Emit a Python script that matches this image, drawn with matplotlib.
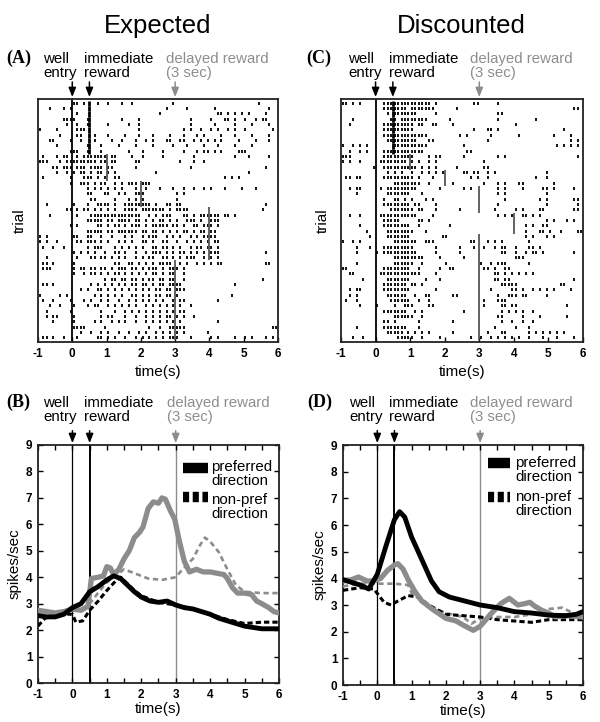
import matplotlib
matplotlib.use('Agg')
import matplotlib.pyplot as plt
from matplotlib.lines import Line2D

plt.rcParams['font.family'] = ['Liberation Sans', 'DejaVu Sans']
plt.rcParams['lines.scale_dashes'] = False

W, H = 600, 722
fig = plt.figure(figsize=(W / 100, H / 100), dpi=100)

# ---------------- data ----------------
# raster spikes: bin indices (0.1 s bins starting at -1 s), one list per trial (top row first)
raster_A = [
    [10, 11, 13, 17, 20, 24, 27, 39, 64],
    [3, 7, 9, 37, 43, 51, 67],
    [11, 35, 52, 53, 55, 57, 59, 61, 66],
    [7, 8, 9, 10, 14, 24, 29, 44, 50, 54, 55, 57, 60, 63, 65, 66],
    [8, 11, 14, 20, 26, 29, 44, 51, 57, 62, 67],
    [0, 5, 11, 12, 13, 29, 42, 44, 47, 50, 52, 55, 57, 60, 68],
    [6, 11, 12, 16, 20, 25, 29, 33, 38, 42, 46, 48, 53, 57, 62, 67],
    [3, 4, 9, 12, 16, 21, 24, 28, 31, 33, 37, 38, 41, 42, 45, 47, 49, 51, 53, 58, 63, 67],
    [5, 14, 18, 23, 28, 33, 39, 43, 48, 52, 57, 62],
    [9, 10, 11, 14, 18, 26, 30, 36, 42, 46, 48, 49, 51, 53, 58, 59, 60],
    [1, 5, 7, 8, 11, 13, 14, 15, 16, 17, 18, 19, 21, 22, 27, 30, 36, 45, 57, 61, 67],
    [0, 1, 2, 6, 8, 9, 10, 11, 12, 13, 14, 15, 16, 18, 19, 21, 22, 28, 29, 41, 45, 48],
    [4, 5, 7, 8, 9, 11, 12, 13, 15, 16, 17, 18, 20, 21, 28, 44, 66],
    [5, 8, 10, 12, 13, 15, 17, 18, 20, 22, 34, 61],
    [1, 9, 13, 14, 15, 17, 19, 22, 23, 54, 56, 58],
    [9, 12, 13, 14, 16, 18, 19, 22, 24, 26, 27, 28, 30, 31, 32],
    [14, 16, 18, 20, 22, 24, 28, 31, 35, 39, 42, 45, 48, 50, 54, 59, 63],
    [14, 15, 19, 20, 23, 25, 28, 29, 30, 40, 42],
    [15, 16, 22, 26, 28, 30, 40],
    [2, 10, 14, 17, 18, 19, 20, 22, 25, 26, 27, 28, 29, 30, 31, 32, 34, 37, 38, 40, 41, 66],
    [8, 9, 11, 13, 14, 16, 18, 20, 22, 25, 26, 27, 28, 30, 31, 32, 33, 34, 35, 36, 38, 40, 41, 42, 43, 65],
    [3, 11, 15, 16, 17, 18, 19, 20, 21, 22, 23, 24, 25, 26, 27, 28, 29, 32, 34, 36, 37, 38, 42, 43, 45, 47, 48, 49, 50, 51, 52, 54, 55, 57],
    [14, 15, 16, 17, 18, 20, 21, 23, 24, 25, 26, 28, 29, 31, 33, 35, 36, 38, 40, 43, 44, 45, 47, 50, 51, 52],
    [9, 11, 17, 18, 20, 22, 23, 25, 27, 28, 29, 31, 33, 34, 35, 36, 37, 39, 40, 42, 45, 46, 48, 49, 50, 52],
    [14, 15, 16, 17, 18, 20, 21, 23, 24, 25, 26, 27, 28, 30, 31, 33, 34, 36, 38, 40, 42, 43, 45, 47, 48, 50, 51],
    [0, 2, 10, 11, 14, 15, 18, 21, 25, 27, 30, 32, 33, 34, 37, 39, 41, 44, 46, 48, 49, 50, 51],
    [0, 2, 5, 11, 12, 14, 15, 16, 18, 20, 23, 25, 27, 30, 31, 33, 36, 37, 40, 43, 45, 47, 49, 51, 52],
    [1, 4, 7, 14, 16, 17, 18, 22, 24, 26, 28, 30, 33, 34, 36, 37, 39, 41, 44, 46, 47, 49, 50, 52],
    [10, 12, 14, 16, 19, 22, 23, 25, 28, 31, 33, 34, 35, 37, 39, 41, 42, 44, 46, 48, 50, 51, 52, 66],
    [2, 11, 15, 16, 18, 19, 21, 23, 25, 28, 30, 32, 33, 36, 37, 39, 41, 43, 44, 45, 48, 50, 52],
    [1, 2, 4, 10, 22, 23, 26, 27, 29, 31, 33, 35, 36, 37, 38, 41, 43, 46, 48, 50, 52, 53, 66, 67],
    [1, 2, 3, 10, 12, 13, 15, 16, 18, 19, 21, 23, 24, 25, 27, 28, 30, 32, 33, 34, 36, 38, 39, 40, 42],
    [10, 13, 15, 16, 18, 20, 22, 23, 25, 27, 29, 31, 33, 34, 36, 38, 39, 42],
    [19, 21, 22, 24, 25, 27, 28, 30, 32, 33, 35, 36, 38, 39, 42, 65],
    [1, 2, 4, 15, 17, 19, 21, 23, 25, 27, 28, 30, 31, 33, 35, 36, 38, 39, 40, 41, 57],
    [12, 14, 17, 18, 20, 22, 24, 26, 28, 30, 32, 34, 35, 37, 38, 40, 41, 42],
    [0, 6, 8, 16, 18, 20, 22, 24, 27, 28, 30, 32, 34, 35, 37, 38, 40, 56],
    [1, 4, 9, 13, 15, 18, 20, 23, 26, 28, 30, 32, 34, 36, 39, 41, 42, 52],
    [3, 6, 10, 14, 16, 17, 20, 22, 24, 26, 28, 31, 33, 35, 37, 39, 41, 44],
    [2, 9, 18, 22, 25, 27, 29, 31, 33, 35, 37, 39, 41, 42],
    [2, 4, 5, 10, 18, 20, 21, 25, 28, 31, 33, 35, 37, 38, 40, 42, 45],
    [4, 10, 16, 18, 21, 23, 25, 28, 31, 33, 35, 37, 39, 41, 52],
    [10, 11, 12, 13, 19, 32, 35, 38, 39, 40, 41, 42, 68, 69],
    [12, 15, 18, 20, 23, 26, 29, 31, 34, 36, 38, 40, 42, 49],
    [1, 2, 4, 7, 11, 17, 18, 20, 22, 25, 28, 30, 32, 34, 36, 38, 39, 40, 44, 50, 52, 57, 60, 62, 66, 68],
]
reward_A = [0.5, 0.5, 0.5, 0.5, 0.5, 0.5, 0.5, 0.5, 0.5, 0.5,
            1, 1, 1, 1, 1, 2, 2, 2, 2, 2,
            4, 4, 4, 4, 4, 4, 4, 4, 4, 4,
            3, 3, 3, 3, 3, 3, 3, 3, 3, 3, 3, 3, 3, 3, 3]

raster_C = [
    [0, 1, 3, 5, 12, 13, 14, 15, 16, 17, 18, 19, 20, 21, 22, 23, 24, 25, 27, 38, 39, 45],
    [12, 13, 14, 15, 16, 17, 18, 20, 21, 22, 23, 24, 25, 26, 33, 67, 68],
    [13, 15, 16, 17, 18, 19, 20, 21, 27, 45, 46],
    [3, 14, 15, 17, 18, 19, 20, 21, 22, 23, 24, 31, 45, 56],
    [2, 12, 13, 14, 15, 16, 17, 18, 19, 20, 22, 23, 26, 27, 32, 50],
    [12, 13, 14, 15, 16, 17, 18, 19, 20, 38, 42, 43, 45, 64],
    [12, 13, 14, 15, 16, 17, 18, 19, 20, 21, 22, 23, 24, 34, 36, 43, 51, 61, 66],
    [13, 14, 15, 16, 17, 18, 19, 20, 21, 25, 26, 42, 66, 68],
    [0, 3, 5, 7, 15, 16, 17, 18, 19, 20, 21, 22, 23, 24, 35, 62, 64, 66, 68],
    [2, 5, 7, 12, 13, 14, 15, 16, 17, 18, 19, 20, 21, 22, 23, 36, 37],
    [0, 1, 2, 12, 13, 14, 15, 16, 17, 18, 19, 20, 25, 27, 28, 35, 45, 47, 68],
    [0, 2, 5, 11, 12, 13, 14, 15, 16, 17, 18, 20, 22, 25, 27, 41],
    [9, 12, 13, 14, 15, 16, 17, 18, 19, 20, 21, 23, 25, 27, 33, 41, 42],
    [13, 15, 17, 20, 23, 25, 27, 29, 35, 36, 38, 39, 42, 44, 59],
    [1, 2, 4, 5, 12, 13, 14, 15, 16, 17, 18, 19, 20, 22, 26, 37, 39, 42, 56, 59],
    [15, 16, 17, 18, 19, 20, 21, 22, 25, 32, 41, 45, 47, 51, 52, 61],
    [2, 4, 5, 11, 13, 14, 15, 16, 17, 18, 19, 20, 21, 28, 35, 37, 45, 47, 52, 58, 59, 61, 67],
    [4, 13, 14, 15, 16, 17, 18, 19, 23, 45, 47, 59],
    [12, 15, 16, 18, 20, 24, 26, 47, 57, 59, 67, 68],
    [12, 13, 14, 15, 16, 17, 18, 19, 21, 22, 27, 45, 59, 68],
    [14, 15, 16, 17, 18, 19, 20, 22, 23, 27, 34, 44, 50, 52, 57, 58, 67, 68],
    [2, 5, 11, 12, 13, 14, 15, 16, 17, 18, 19, 20, 21, 26, 45, 47, 49, 52, 53, 55, 57],
    [12, 13, 14, 15, 16, 22, 23, 25, 59, 61, 65, 67],
    [5, 12, 13, 14, 15, 16, 17, 18, 19, 22, 31, 53, 55, 58, 59],
    [7, 13, 14, 15, 16, 17, 18, 19, 20, 24, 53, 57, 58, 60, 63, 68, 69],
    [8, 13, 14, 15, 16, 17, 18, 19, 29, 30, 53, 55, 59, 61],
    [0, 3, 5, 15, 16, 17, 18, 19, 20, 21, 24, 25, 26, 37, 38, 42, 44, 46, 54],
    [4, 8, 12, 13, 14, 15, 16, 17, 18, 19, 20, 27, 34, 38, 41, 44, 46, 47, 50, 54, 55, 57],
    [4, 10, 12, 13, 14, 15, 16, 17, 18, 19, 20, 21, 27, 34, 46, 47, 50, 53, 55, 56, 58, 67],
    [15, 16, 17, 18, 19, 20, 21, 22, 23, 28, 35, 50, 51, 52],
    [4, 15, 16, 17, 18, 19, 20, 23, 30, 40, 43, 45, 46, 47, 54],
    [0, 1, 12, 13, 14, 15, 16, 17, 18, 19, 22, 28, 31, 32, 41, 42, 44, 47, 48],
    [2, 3, 11, 12, 13, 14, 15, 16, 17, 18, 19, 20, 21, 22, 27, 44, 45, 47, 49, 51, 53, 55],
    [6, 13, 14, 15, 16, 17, 18, 19, 24, 28, 44, 45, 47, 48, 67],
    [12, 13, 14, 15, 16, 17, 18, 20, 21, 23, 46, 47, 48, 49, 50, 63, 64],
    [2, 4, 5, 12, 13, 14, 15, 16, 17, 18, 19, 27, 43, 49, 50, 52, 55, 57, 59, 61, 66],
    [2, 4, 13, 14, 15, 16, 17, 18, 21, 24, 25, 32, 33, 45, 48, 49, 50, 52, 53, 59],
    [1, 4, 14, 15, 16, 17, 18, 19, 22, 25, 41, 45, 46, 47],
    [5, 10, 15, 18, 19, 20, 25, 26, 41, 46, 47, 49, 50, 65],
    [12, 13, 14, 15, 16, 17, 18, 21, 23, 35, 46, 48, 50, 52, 55],
    [15, 16, 17, 18, 19, 20, 23, 45, 46, 52, 57, 65],
    [12, 13, 15, 22, 32, 46, 49, 52, 55],
    [4, 12, 13, 14, 15, 16, 17, 18, 22, 44, 50, 54],
    [13, 14, 15, 16, 17, 19, 21, 23, 25, 32, 42, 46, 47, 54, 56, 58, 60, 62, 64],
    [3, 6, 16, 17, 18, 19, 20, 23, 28, 37, 40, 43, 45, 47, 49, 51, 54, 58, 62, 67],
]
reward_C = [0.5, 0.5, 0.5, 0.5, 0.5, 0.5, 0.5, 0.5, 0.5, 0.5,
            1, 1, 1, 2, 2, 2, 3, 3, 3, 3, 3,
            4, 4, 4, 4,
            3, 3, 3, 3, 3, 3, 3, 3, 3, 3, 3, 3, 3, 3, 3, 3, 3, 3, 3, 3]

# firing-rate curves (time s, spikes/sec)
B_gray_solid_t = [-1, -0.75, -0.5, -0.25, 0, 0.25, 0.45, 0.55, 0.75, 0.9, 1.0, 1.1, 1.2, 1.35, 1.5, 1.65, 1.8, 1.95,
                  2.05, 2.2, 2.35, 2.5, 2.6, 2.7, 2.85, 2.97, 3.1, 3.25, 3.4, 3.6, 3.8, 4.0, 4.2, 4.4, 4.5, 4.65,
                  4.8, 5.0, 5.2, 5.35, 5.5, 5.7, 5.85, 6.0]
B_gray_solid_v = [2.75, 2.7, 2.65, 2.7, 2.8, 2.75, 2.9, 3.95, 4.0, 4.05, 4.4, 4.35, 4.1, 4.3, 4.7, 5.0, 5.5, 5.7,
                  5.9, 6.6, 6.85, 6.8, 7.0, 6.95, 6.5, 6.2, 5.4, 4.6, 4.2, 4.3, 4.2, 4.2, 4.15, 4.1, 3.95, 3.6,
                  3.4, 3.4, 3.35, 3.1, 3.0, 2.85, 2.7, 2.65]
B_gray_dash_t = [-1, -0.5, 0, 0.3, 0.5, 0.8, 1.0, 1.3, 1.5, 1.8, 2.2, 2.6, 3.0, 3.2, 3.5, 3.7, 3.85, 4.0, 4.25,
                 4.5, 4.75, 5.0, 5.5, 6.0]
B_gray_dash_v = [2.7, 2.65, 2.75, 2.8, 3.0, 3.5, 3.8, 4.1, 4.3, 4.15, 3.95, 3.9, 4.0, 4.3, 4.7, 5.2, 5.5, 5.35, 4.95,
                 4.3, 3.7, 3.45, 3.4, 3.4]
B_black_solid_t = [-1, -0.75, -0.5, -0.25, 0, 0.25, 0.5, 0.75, 1.0, 1.2, 1.4, 1.6, 1.8, 2.0, 2.25, 2.5, 2.75, 3.0,
                   3.25, 3.5, 3.75, 4.0, 4.25, 4.5, 4.75, 5.0, 5.25, 5.5, 5.75, 6.0]
B_black_solid_v = [2.55, 2.5, 2.5, 2.6, 2.85, 3.0, 3.45, 3.65, 3.9, 4.05, 3.95, 3.7, 3.45, 3.25, 3.1, 3.05, 3.1, 2.95,
                   2.85, 2.8, 2.7, 2.6, 2.45, 2.35, 2.25, 2.15, 2.1, 2.05, 2.05, 2.05]
B_black_dash_t = [-1, -0.8, -0.5, -0.2, 0.0, 0.1, 0.3, 0.5, 0.75, 1.0, 1.25, 1.4, 1.6, 1.8, 2.0, 2.5, 3.0, 3.5,
                  4.0, 4.5, 5.0, 5.5, 6.0]
B_black_dash_v = [2.15, 2.45, 2.55, 2.6, 2.6, 2.3, 2.35, 2.75, 3.1, 3.5, 3.85, 4.0, 3.75, 3.5, 3.3, 3.05, 2.95, 2.8,
                  2.6, 2.4, 2.25, 2.3, 2.3]

D_black_solid_t = [-1, -0.75, -0.5, -0.25, 0, 0.25, 0.5, 0.65, 0.8, 1.0, 1.3, 1.58, 1.8, 2.1, 2.4, 2.7, 3.0, 3.5,
                   4.0, 4.5, 5.0, 5.5, 5.8, 6.0]
D_black_solid_v = [3.95, 3.85, 3.75, 3.6, 4.15, 5.2, 6.2, 6.5, 6.3, 5.55, 4.7, 3.9, 3.5, 3.3, 3.2, 3.1, 3.0, 2.9,
                   2.75, 2.7, 2.62, 2.6, 2.65, 2.75]
D_gray_solid_t = [-1, -0.75, -0.55, -0.3, -0.1, 0.1, 0.3, 0.5, 0.6, 0.75, 0.9, 1.1, 1.3, 1.6, 2.0, 2.3, 2.5, 2.8,
                  3.0, 3.3, 3.6, 3.85, 4.1, 4.3, 4.45, 4.6, 4.8, 5.0, 5.2, 5.5, 6.0]
D_gray_solid_v = [3.9, 3.95, 4.05, 3.9, 3.9, 4.0, 4.3, 4.5, 4.55, 4.35, 3.95, 3.5, 3.15, 2.85, 2.5, 2.4, 2.25, 2.05,
                  2.2, 2.65, 3.05, 3.25, 3.0, 3.05, 3.1, 2.95, 2.8, 2.7, 2.55, 2.6, 2.55]
D_gray_dash_t = [-1, -0.5, 0, 0.5, 0.9, 1.0, 1.3, 1.6, 2.0, 2.5, 2.75, 3.0, 3.5, 4.0, 4.5, 5.0, 5.4, 5.7, 6.0]
D_gray_dash_v = [3.7, 3.8, 3.8, 3.8, 3.75, 3.45, 3.15, 2.9, 2.7, 2.55, 2.3, 2.5, 2.55, 2.55, 2.65, 2.85, 2.9, 2.7, 2.6]
D_black_dash_t = [-1, -0.5, -0.1, 0.05, 0.2, 0.4, 0.6, 0.9, 1.2, 1.5, 2.0, 2.5, 3.0, 3.5, 4.0, 4.5, 5.0, 5.5, 6.0]
D_black_dash_v = [3.55, 3.65, 3.6, 3.35, 3.1, 3.0, 3.15, 3.35, 3.3, 3.0, 2.65, 2.6, 2.55, 2.45, 2.4, 2.35, 2.45,
                  2.45, 2.45]

x_ticks = [-1, 0, 1, 2, 3, 4, 5, 6]
y_ticks = [0, 1, 2, 3, 4, 5, 6, 7, 8, 9]
legend_labels = ['preferred\ndirection', 'non-pref\ndirection']

GRAY = '#8c8c8c'
GTXT = '#8e8e8e'


def px(x, y):
    return x / W, 1 - y / H


def add_ax(l, t, r, b):
    return fig.add_axes([l / W, 1 - b / H, (r - l) / W, (b - t) / H])


def ftext(x, y, s, **kw):
    fx, fy = px(x, y)
    fig.text(fx, fy, s, **kw)


def style_ticks(ax):
    ax.tick_params(direction='in', length=3.5, width=1.0, labelsize=8.5, pad=4)
    for lab in ax.get_xticklabels() + ax.get_yticklabels():
        lab.set_fontweight('bold')
    for sp in ax.spines.values():
        sp.set_linewidth(1.3)
        sp.set_color('#222222')


def draw_raster(ax, raster, reward):
    n = len(raster)
    times = [[-1 + (i + 0.5) * 0.1 for i in row] for row in raster]
    ax.eventplot(times, lineoffsets=list(range(n)), linelengths=0.55, linewidths=1.3, colors='k')
    for r, rt in enumerate(reward):
        if rt == 0.5:
            ax.plot([rt, rt], [r - 0.5, r + 0.5], color='k', lw=2.0, solid_capstyle='butt')
        else:
            ax.plot([rt, rt], [r - 0.5, r + 0.5], color='#555555', lw=1.3, solid_capstyle='butt')
    ax.axvline(0, color='k', lw=1.3)
    ax.set_xlim(-1, 6)
    ax.set_ylim(n - 0.2, -0.8)
    ax.set_xticks(x_ticks)
    ax.set_xticklabels([str(v) for v in x_ticks])
    ax.set_yticks([])
    style_ticks(ax)
    ax.set_xlabel('time(s)', fontsize=11, labelpad=4)
    ax.set_ylabel('trial', fontsize=11, labelpad=8)


def draw_rates(ax, curves):
    ax.axvline(0, color='k', lw=0.9, zorder=1)
    ax.axvline(0.5, color='k', lw=1.4, zorder=1)
    ax.axvline(3, color=GRAY, lw=1.0, zorder=1)
    for t, v, col, lw, ls in curves:
        line, = ax.plot(t, v, color=col, lw=lw, solid_joinstyle='round', zorder=3)
        if ls is not None:
            line.set_dashes(ls)
    ax.set_xlim(-1, 6)
    ax.set_ylim(0, 9)
    ticks = [x / 2 for x in range(-2, 13)]
    ax.set_xticks(ticks)
    ax.set_xticklabels([str(int(v)) if v == int(v) else '' for v in ticks])
    ax.set_yticks(y_ticks)
    ax.set_yticklabels([str(v) for v in y_ticks])
    ax.tick_params(top=True, right=True)
    style_ticks(ax)
    ax.set_xlabel('time(s)', fontsize=11, labelpad=1)
    ax.set_ylabel('spikes/sec', fontsize=11, labelpad=3)


def add_arrows(ax, tip, tail):
    tr = ax.get_xaxis_transform()
    for t, col in [(0, 'k'), (0.5, 'k'), (3, GRAY)]:
        ax.annotate('', xy=(t, tip), xycoords=tr, xytext=(t, tail), textcoords=tr,
                    arrowprops=dict(arrowstyle='-|>,head_length=0.55,head_width=0.22', color=col, lw=1.1,
                                    shrinkA=0, shrinkB=0), annotation_clip=False)


def add_labels(letter, x_letter, x_well, x_imm, x_del, y1, y2):
    ftext(x_letter, y1, letter, fontsize=13, fontweight='bold', family='Liberation Serif', va='baseline')
    ftext(x_well, y1, 'well', fontsize=10.8, va='baseline')
    ftext(x_well, y2, 'entry', fontsize=10.8, va='baseline')
    ftext(x_imm, y1, 'immediate', fontsize=10.8, va='baseline')
    ftext(x_imm, y2, 'reward', fontsize=10.8, va='baseline')
    ftext(x_del, y1, 'delayed reward', fontsize=10.8, va='baseline', color=GTXT)
    ftext(x_del, y2, '(3 sec)', fontsize=10.8, va='baseline', color=GTXT)


def add_legend(x0, x1, xt, ys1, yt1, ys2, yt2):
    fx0, fy = px(x0, ys1)
    fx1, _ = px(x1, ys1)
    fig.add_artist(Line2D([fx0, fx1], [fy, fy], color='k', lw=7.5, solid_capstyle='butt',
                          transform=fig.transFigure))
    _, fy2 = px(x0, ys2)
    l2 = Line2D([fx0, fx1], [fy2, fy2], color='k', lw=7.5, solid_capstyle='butt', transform=fig.transFigure)
    l2.set_dashes((4.4, 2.6))
    fig.add_artist(l2)
    lab1 = legend_labels[0].split('\n')
    lab2 = legend_labels[1].split('\n')
    ftext(xt, yt1, lab1[0], fontsize=10.8, va='baseline')
    ftext(xt, yt1 + 14, lab1[1], fontsize=10.8, va='baseline')
    ftext(xt, yt2, lab2[0], fontsize=10.8, va='baseline')
    ftext(xt, yt2 + 14, lab2[1], fontsize=10.8, va='baseline')


# titles
fx, fy = px(157.5, 33)
fig.text(fx, fy, 'Expected', fontsize=18.5, ha='center', va='baseline')
fx, fy = px(461.7, 33)
fig.text(fx, fy, 'Discounted', fontsize=18.5, ha='center', va='baseline')

# raster panels
axA = add_ax(38, 99, 278, 342)
draw_raster(axA, raster_A, reward_A)
add_arrows(axA, 1.008, 1.07)
add_labels('(A)', 6, 43, 84, 166, 63, 77)

axC = add_ax(341, 99, 583, 342)
draw_raster(axC, raster_C, reward_C)
add_arrows(axC, 1.008, 1.07)
add_labels('(C)', 306, 348, 389, 470.5, 63, 77)

# rate panels
axB = add_ax(38, 445, 279, 683)
draw_rates(axB, [
    (B_gray_dash_t, B_gray_dash_v, GRAY, 1.9, (3.8, 2.6)),
    (B_black_dash_t, B_black_dash_v, 'k', 2.2, (3.8, 2.2)),
    (B_gray_solid_t, B_gray_solid_v, GRAY, 3.8, None),
    (B_black_solid_t, B_black_solid_v, 'k', 3.5, None),
])
add_arrows(axB, 1.008, 1.06)
add_labels('(B)', 6, 43, 84, 166.5, 407, 421)
add_legend(183, 208, 211, 468, 471, 497, 504)

axD = add_ax(343, 445, 583, 685)
draw_rates(axD, [
    (D_gray_dash_t, D_gray_dash_v, GRAY, 1.9, (3.8, 2.6)),
    (D_black_dash_t, D_black_dash_v, 'k', 2.2, (3.8, 2.2)),
    (D_gray_solid_t, D_gray_solid_v, GRAY, 3.8, None),
    (D_black_solid_t, D_black_solid_v, 'k', 3.5, None),
])
add_arrows(axD, 1.008, 1.06)
add_labels('(D)', 307, 349, 389, 470.5, 407, 421)
add_legend(488, 510, 515, 463, 467, 497, 501)

fig.savefig('out.png', dpi=100)
